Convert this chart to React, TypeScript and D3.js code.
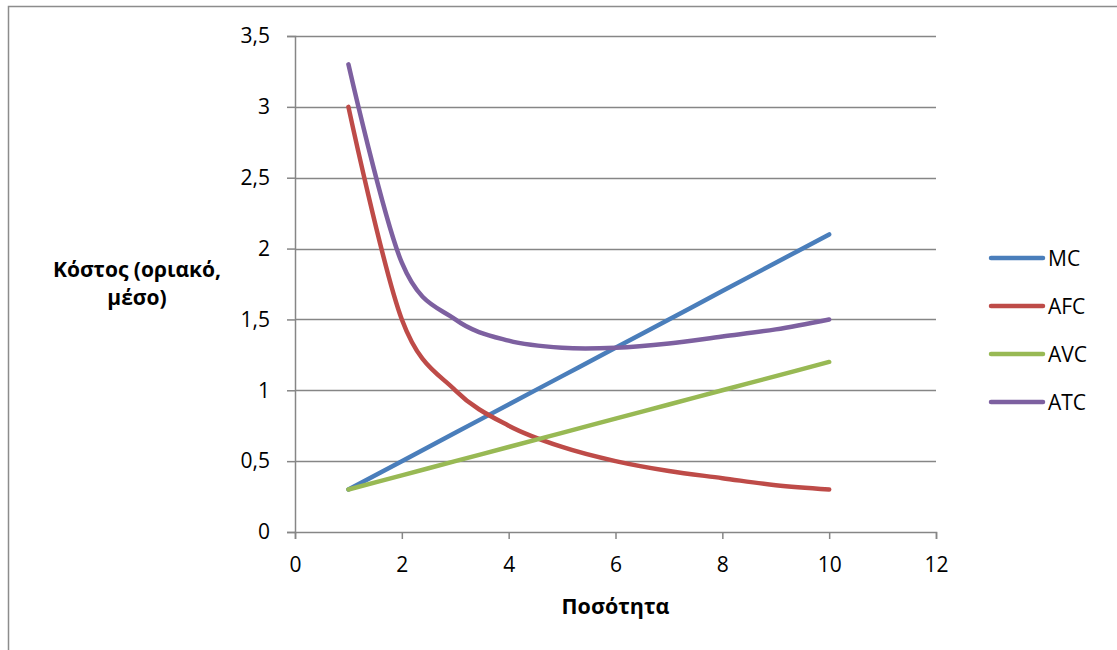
import React, { useEffect, useRef } from "react";
import * as d3 from "d3";

const quantities = [1, 2, 3, 4, 5, 6, 7, 8, 9, 10];
const mcValues = [0.3, 0.5, 0.7, 0.9, 1.1, 1.3, 1.5, 1.7, 1.9, 2.1];
const afcValues = [3, 1.5, 1, 0.75, 0.6, 0.5, 0.43, 0.38, 0.33, 0.3];
const avcValues = [0.3, 0.4, 0.5, 0.6, 0.7, 0.8, 0.9, 1.0, 1.1, 1.2];
const atcValues = [3.3, 1.9, 1.5, 1.35, 1.3, 1.3, 1.33, 1.38, 1.43, 1.5];

const seriesNames = ["MC", "AFC", "AVC", "ATC"];
const seriesColors = ["#4A7EBB", "#BE4B48", "#98B954", "#7D60A0"];
const xTicks = [0, 2, 4, 6, 8, 10, 12];
const yTicks = [0, 0.5, 1, 1.5, 2, 2.5, 3, 3.5];

const W = 1117;
const H = 650;
const FONT = "Open Sans, Noto Sans, sans-serif";
const TICK_SIZE = 21;
const LABEL_SIZE = 21;

export default function App() {
  const ref = useRef<SVGSVGElement | null>(null);

  useEffect(() => {
    const svg = d3.select(ref.current);
    svg.selectAll("*").remove();

    const x = d3.scaleLinear().domain([0, 12]).range([295, 936]);
    const y = d3.scaleLinear().domain([0, 3.5]).range([532, 36]);

    // outer frame
    svg
      .append("rect")
      .attr("x", 8.5)
      .attr("y", 6.5)
      .attr("width", W + 20)
      .attr("height", H + 20)
      .attr("fill", "none")
      .attr("stroke", "#8c8c8c")
      .attr("stroke-width", 1.5);

    // horizontal gridlines
    svg
      .append("g")
      .selectAll("line")
      .data(yTicks.filter((t) => t > 0))
      .join("line")
      .attr("x1", x(0))
      .attr("x2", x(12))
      .attr("y1", (d) => Math.round(y(d)) + 0.5)
      .attr("y2", (d) => Math.round(y(d)) + 0.5)
      .attr("stroke", "#868686")
      .attr("stroke-width", 1.5);

    // y axis
    const yAxis = d3
      .axisLeft(y)
      .tickValues(yTicks)
      .tickSize(8)
      .tickPadding(17)
      .tickFormat((d) => String(d).replace(".", ","));
    const gy = svg.append("g").attr("transform", `translate(${x(0)},0)`).call(yAxis);
    gy.select(".domain").attr("stroke", "#868686").attr("stroke-width", 1.5);
    gy.selectAll(".tick line").attr("stroke", "#868686").attr("stroke-width", 1.5);
    gy.selectAll("text")
      .attr("font-family", FONT)
      .attr("font-size", TICK_SIZE)
      .attr("fill", "#000");

    // x axis
    const xAxis = d3.axisBottom(x).tickValues(xTicks).tickSize(7).tickPadding(18);
    const gx = svg.append("g").attr("transform", `translate(0,${y(0)})`).call(xAxis);
    gx.select(".domain").attr("stroke", "#868686").attr("stroke-width", 1.5);
    gx.selectAll(".tick line").attr("stroke", "#868686").attr("stroke-width", 1.5);
    gx.selectAll("text")
      .attr("font-family", FONT)
      .attr("font-size", TICK_SIZE)
      .attr("fill", "#000");

    // series
    const allValues = [mcValues, afcValues, avcValues, atcValues];
    const line = d3
      .line<number>()
      .x((_, i) => x(quantities[i]))
      .y((d) => y(d))
      .curve(d3.curveCardinal.tension(0));

    allValues.forEach((vals, i) => {
      svg
        .append("path")
        .attr("d", line(vals))
        .attr("fill", "none")
        .attr("stroke", seriesColors[i])
        .attr("stroke-width", 4.5)
        .attr("stroke-linecap", "round")
        .attr("stroke-linejoin", "round");
    });

    // axis titles
    svg
      .append("text")
      .attr("x", x(6))
      .attr("y", 614)
      .attr("text-anchor", "middle")
      .attr("font-family", FONT)
      .attr("font-weight", "bold")
      .attr("font-size", 21.5)
      .text("Ποσότητα");

    const yt = svg
      .append("text")
      .attr("text-anchor", "middle")
      .attr("font-family", FONT)
      .attr("font-weight", "bold")
      .attr("font-size", LABEL_SIZE);
    yt.append("tspan").attr("x", 137).attr("y", 277).text("Κόστος (οριακό,");
    yt.append("tspan").attr("x", 137).attr("y", 305).text("μέσο)");

    // legend
    const lg = svg.append("g");
    seriesNames.forEach((name, i) => {
      const ly = 258 + i * 48;
      lg.append("line")
        .attr("x1", 991)
        .attr("x2", 1043)
        .attr("y1", ly)
        .attr("y2", ly)
        .attr("stroke", seriesColors[i])
        .attr("stroke-width", 4.5)
        .attr("stroke-linecap", "round");
      lg.append("text")
        .attr("x", 1048)
        .attr("y", ly)
        .attr("dy", "0.36em")
        .attr("font-family", FONT)
        .attr("font-size", LABEL_SIZE)
        .text(name);
    });
  }, []);

  return (
    <svg
      ref={ref}
      width={W}
      height={H}
      style={{ position: "absolute", left: 0, top: 0, background: "#fff" }}
    />
  );
}
